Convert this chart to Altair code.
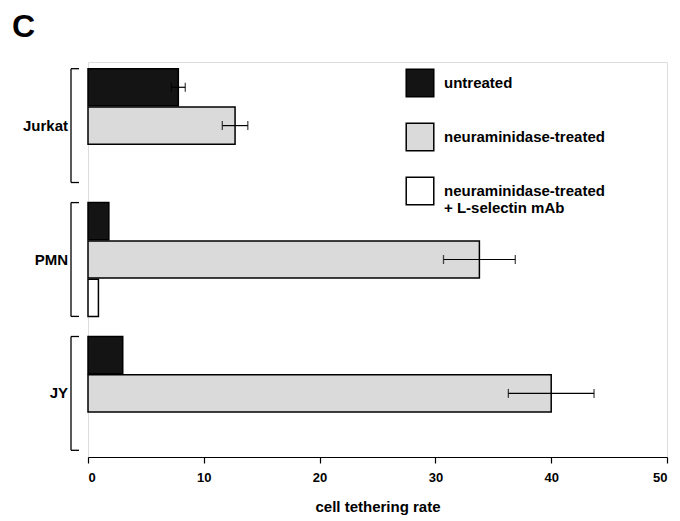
import altair as alt
import pandas as pd

groups = ["Jurkat", "PMN", "JY"]
conditions = ["untreated", "neuraminidase-treated", "neuraminidase-treated + L-selectin mAb"]
untreated = [7.8, 1.8, 3.0]
neuraminidase = [12.7, 33.8, 40.0]
mab = [None, 0.9, None]
untreated_err = [0.6, None, None]
neuraminidase_err = [1.1, 3.1, 3.7]
mab_err = [None, None, None]
x_ticks = [0, 10, 20, 30, 40, 50]

rows = []
for vals, errs, cond in [(untreated, untreated_err, conditions[0]),
                         (neuraminidase, neuraminidase_err, conditions[1]),
                         (mab, mab_err, conditions[2])]:
    for g, v, e in zip(groups, vals, errs):
        rows.append({"group": g, "condition": cond, "value": v, "err": e})
df = pd.DataFrame(rows)
bars_df = df[df["value"].notna()].copy()
err_df = df[df["err"].notna()].copy()
err_df["lo"] = err_df["value"] - err_df["err"]
err_df["hi"] = err_df["value"] + err_df["err"]
grp_df = pd.DataFrame({"group": groups})

FONT = "Liberation Sans"

yscale = alt.Scale(domain=groups, paddingInner=0.15, paddingOuter=0.05)
yoff_scale = alt.Scale(domain=conditions, paddingInner=0.03, paddingOuter=0)
xscale = alt.Scale(domain=[0, 50], nice=False)

Y = alt.Y("group:N", scale=yscale, axis=None, sort=groups)

bars = alt.Chart(bars_df).mark_bar(stroke="black", strokeWidth=1.5).encode(
    x=alt.X("value:Q", scale=xscale,
            axis=alt.Axis(values=x_ticks, title="cell tethering rate", grid=False,
                          tickSize=6, labelPadding=8, titlePadding=15,
                          labelFontSize=13, labelFontWeight="bold", labelFont=FONT,
                          titleFontSize=15, titleFontWeight="bold", titleFont=FONT,
                          domainColor="black", tickColor="black", labelColor="black",
                          titleColor="black", domainWidth=1.2, tickWidth=1.2)),
    y=Y,
    yOffset=alt.YOffset("condition:N", scale=yoff_scale, sort=conditions),
    fill=alt.Fill("condition:N", sort=conditions,
                  scale=alt.Scale(domain=conditions, range=["#141414", "#dadada", "#ffffff"]),
                  legend=alt.Legend(
                      orient="none", legendX=317, legendY=6, title=None, padding=0,
                      symbolType="square", symbolSize=760, symbolStrokeColor="black",
                      symbolStrokeWidth=1.5, labelFont=FONT, labelFontSize=15,
                      labelFontWeight="bold", labelColor="black", labelOffset=9,
                      rowPadding=20, labelLimit=400,
                      labelExpr="datum.label == 'neuraminidase-treated + L-selectin mAb' ? ['neuraminidase-treated', '+ L-selectin mAb'] : datum.label")),
)

err_rule = alt.Chart(err_df).mark_rule(color="black", strokeWidth=1.2).encode(
    x=alt.X("lo:Q", scale=xscale), x2="hi:Q", y=Y,
    yOffset=alt.YOffset("condition:N", scale=yoff_scale, sort=conditions),
)
cap_lo = alt.Chart(err_df).mark_tick(color="black", orient="vertical", size=9, thickness=1.3).encode(
    x=alt.X("lo:Q", scale=xscale), y=Y,
    yOffset=alt.YOffset("condition:N", scale=yoff_scale, sort=conditions),
)
cap_hi = alt.Chart(err_df).mark_tick(color="black", orient="vertical", size=9, thickness=1.3).encode(
    x=alt.X("hi:Q", scale=xscale), y=Y,
    yOffset=alt.YOffset("condition:N", scale=yoff_scale, sort=conditions),
)

bracket_v = alt.Chart(grp_df).mark_rule(color="black", strokeWidth=1.3).encode(
    x=alt.value(-17),
    y=alt.Y("group:N", scale=yscale, axis=None, sort=groups, bandPosition=0),
    y2=alt.Y2("group:N", bandPosition=1),
)
bracket_top = alt.Chart(grp_df).mark_rule(color="black", strokeWidth=1.3).encode(
    x=alt.value(-17), x2=alt.value(-9),
    y=alt.Y("group:N", scale=yscale, axis=None, sort=groups, bandPosition=0),
)
bracket_bot = alt.Chart(grp_df).mark_rule(color="black", strokeWidth=1.3).encode(
    x=alt.value(-17), x2=alt.value(-9),
    y=alt.Y("group:N", scale=yscale, axis=None, sort=groups, bandPosition=1),
)
labels = alt.Chart(grp_df).mark_text(align="right", baseline="middle", font=FONT,
                                     fontSize=15, fontWeight="bold", color="black").encode(
    x=alt.value(-20), y=Y, text="group:N",
)
panel = alt.Chart(pd.DataFrame({"t": ["C"]})).mark_text(
    align="left", baseline="alphabetic", font=FONT, fontSize=32, fontWeight="bold", color="black"
).encode(x=alt.value(-76), y=alt.value(-25), text="t:N")

chart = alt.layer(bars, err_rule, cap_lo, cap_hi, bracket_v, bracket_top, bracket_bot,
                  labels, panel).properties(
    width=579, height=395,
    autosize=alt.AutoSizeParams(type="none"),
    padding={"left": 80, "top": 54, "right": 5, "bottom": 62},
).configure_view(stroke="black", strokeWidth=1.2).configure(background="white")

chart.save("out.html", embed_options={"renderer": "svg", "actions": False})
